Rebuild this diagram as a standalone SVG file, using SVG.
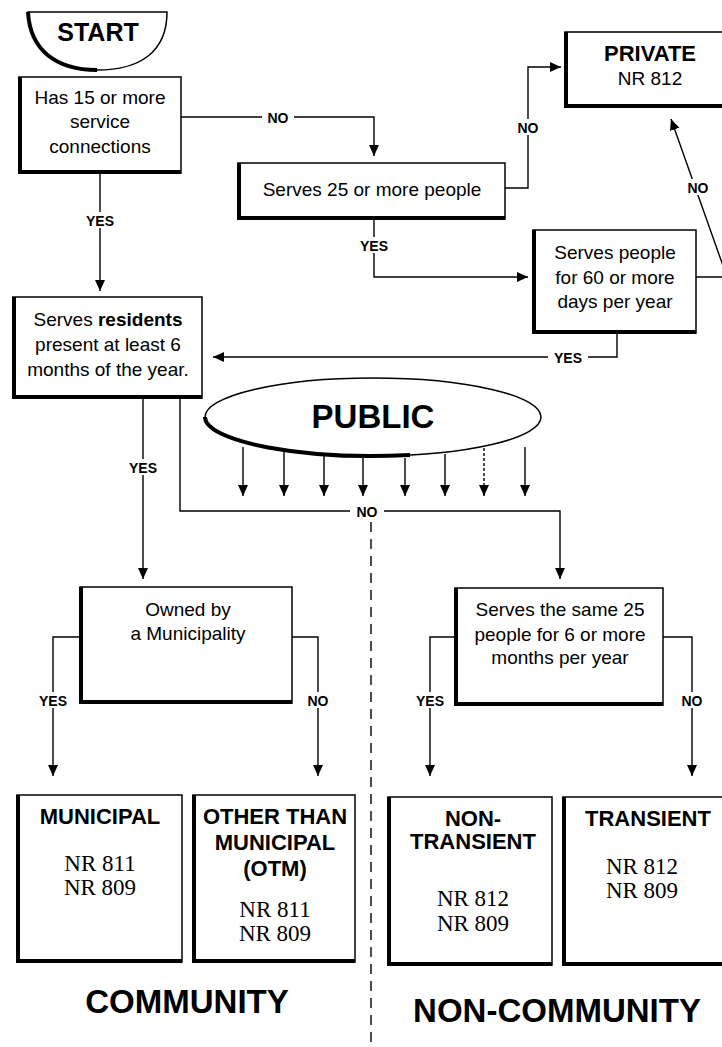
<svg xmlns="http://www.w3.org/2000/svg" width="722" height="1047" viewBox="0 0 722 1047">
<defs>
<marker id="arr" markerUnits="userSpaceOnUse" markerWidth="12" markerHeight="14" refX="11" refY="5" orient="auto">
<path d="M0,0 L11,5 L0,10 Z" fill="#000"/>
</marker>
<style>
.box{fill:#fff;stroke:#000;stroke-width:1.5}
.sh{fill:none;stroke:#000;stroke-width:4}
.ln{fill:none;stroke:#000;stroke-width:1.4}
.t{font-family:"Liberation Sans",Arial,sans-serif;font-size:19px;text-anchor:middle;fill:#000}
.b{font-family:"Liberation Sans",Arial,sans-serif;font-weight:bold;text-anchor:middle;fill:#000}
.s{font-family:"Liberation Serif","Times New Roman",serif;font-size:23px;text-anchor:middle;fill:#000}
.lab{font-family:"Liberation Sans",Arial,sans-serif;font-weight:bold;font-size:14px;text-anchor:middle;fill:#000}
.bg{fill:#fff}
</style>
</defs>
<rect width="722" height="1047" fill="#fff"/>

<g id="connectors">
<path class="ln" d="M181,117 H374 V156" marker-end="url(#arr)"/>
<path class="ln" d="M505,188 H528 V67 H561" marker-end="url(#arr)"/>
<path class="ln" d="M374,220 V277 H528" marker-end="url(#arr)"/>
<path class="ln" d="M696,277 H727 L671,119" marker-end="url(#arr)"/>
<path class="ln" d="M617,333 V357 H213" marker-end="url(#arr)"/>
<path class="ln" d="M100,173 V291" marker-end="url(#arr)"/>
<path class="ln" d="M143,398 V579" marker-end="url(#arr)"/>
<path class="ln" d="M180,398 V511 H560 V579" marker-end="url(#arr)"/>
<path class="ln" d="M80,637 H53 V776" marker-end="url(#arr)"/>
<path class="ln" d="M292,637 H318 V776" marker-end="url(#arr)"/>
<path class="ln" d="M455,637 H430 V776" marker-end="url(#arr)"/>
<path class="ln" d="M663,637 H692 V776" marker-end="url(#arr)"/>
<path class="ln" d="M243,447 V496" marker-end="url(#arr)"/>
<path class="ln" d="M284,452 V496" marker-end="url(#arr)"/>
<path class="ln" d="M324,456 V496" marker-end="url(#arr)"/>
<path class="ln" d="M363,458 V496" marker-end="url(#arr)"/>
<path class="ln" d="M405,458 V496" marker-end="url(#arr)"/>
<path class="ln" d="M445,454 V496" marker-end="url(#arr)"/>
<path class="ln" d="M484,448 V496" marker-end="url(#arr)" stroke-dasharray="3,2"/>
<path class="ln" d="M525,447 V496" marker-end="url(#arr)"/>
<path class="ln" d="M371,522 V1047" stroke-dasharray="10,7"/>
<rect class="bg" x="262" y="109" width="32" height="16"/>
<text class="lab" x="278" y="123">NO</text>
<rect class="bg" x="513" y="119" width="30" height="16"/>
<text class="lab" x="528" y="133">NO</text>
<rect class="bg" x="355" y="237" width="38" height="16"/>
<text class="lab" x="374" y="251">YES</text>
<rect class="bg" x="683" y="179" width="30" height="16"/>
<text class="lab" x="698" y="193">NO</text>
<rect class="bg" x="548" y="349" width="40" height="16"/>
<text class="lab" x="568" y="363">YES</text>
<rect class="bg" x="81" y="212" width="38" height="16"/>
<text class="lab" x="100" y="226">YES</text>
<rect class="bg" x="124" y="459" width="38" height="16"/>
<text class="lab" x="143" y="473">YES</text>
<rect class="bg" x="350" y="503" width="34" height="16"/>
<text class="lab" x="367" y="517">NO</text>
<rect class="bg" x="34" y="692" width="38" height="16"/>
<text class="lab" x="53" y="706">YES</text>
<rect class="bg" x="304" y="692" width="28" height="16"/>
<text class="lab" x="318" y="706">NO</text>
<rect class="bg" x="411" y="692" width="38" height="16"/>
<text class="lab" x="430" y="706">YES</text>
<rect class="bg" x="678" y="692" width="28" height="16"/>
<text class="lab" x="692" y="706">NO</text>
</g>

<g id="start">
<path class="box" d="M28,12 L167,12 C167,52 140,70 97,70 C56,70 30,50 28,12 Z"/>
<path class="sh" d="M28,12 C30,50 56,70 97,70"/>
<text class="b" x="98" y="41" font-size="25">START</text>
</g>

<g id="n-connections">
<rect class="box" x="19" y="77" width="162" height="96"/>
<path class="sh" d="M20,77 V172 H181"/>
<text class="t" x="100" y="104">Has 15 or more</text>
<text class="t" x="100" y="128">service</text>
<text class="t" x="100" y="153">connections</text>
</g>

<g id="n-serves25">
<rect class="box" x="238" y="163" width="267" height="56"/>
<path class="sh" d="M239,163 V218 H505"/>
<text class="t" x="372" y="196" font-size="20">Serves 25 or more people</text>
</g>

<g id="n-private">
<rect class="box" x="565" y="32" width="170" height="75"/>
<path class="sh" d="M566,32 V106 H735"/>
<text class="b" x="650" y="61" font-size="22">PRIVATE</text>
<text class="t" x="650" y="85">NR 812</text>
</g>

<g id="n-days60">
<rect class="box" x="533" y="230" width="163" height="103"/>
<path class="sh" d="M534,230 V332 H696"/>
<text class="t" x="615" y="259">Serves people</text>
<text class="t" x="615" y="284">for 60 or more</text>
<text class="t" x="615" y="308">days per year</text>
</g>

<g id="n-residents">
<rect class="box" x="13" y="297" width="189" height="101"/>
<path class="sh" d="M14,297 V397 H202"/>
<text class="t" x="108" y="326">Serves <tspan font-weight="bold">residents</tspan></text>
<text class="t" x="108" y="351">present at least 6</text>
<text class="t" x="108" y="376">months of the year.</text>
</g>

<g id="n-public">
<ellipse class="box" cx="373" cy="417" rx="168" ry="39"/>
<path class="sh" d="M205,417 A168,39 0 0 0 410,455"/>
<text class="b" x="373" y="428" font-size="33">PUBLIC</text>
</g>

<g id="n-owned">
<rect class="box" x="80" y="587" width="212" height="116"/>
<path class="sh" d="M81,587 V702 H292"/>
<text class="t" x="188" y="616">Owned by</text>
<text class="t" x="188" y="640">a Municipality</text>
</g>

<g id="n-same25">
<rect class="box" x="455" y="588" width="208" height="117"/>
<path class="sh" d="M456,588 V704 H663"/>
<text class="t" x="560" y="616">Serves the same 25</text>
<text class="t" x="560" y="641">people for 6 or more</text>
<text class="t" x="560" y="664">months per year</text>
</g>

<g id="n-municipal">
<rect class="box" x="17" y="795" width="165" height="167"/>
<path class="sh" d="M18,795 V961 H182"/>
<text class="b" x="100" y="824" font-size="22">MUNICIPAL</text>
<text class="s" x="100" y="871">NR 811</text>
<text class="s" x="100" y="895">NR 809</text>
</g>

<g id="n-otm">
<rect class="box" x="193" y="795" width="162" height="167"/>
<path class="sh" d="M194,795 V961 H355"/>
<text class="b" x="275" y="824" font-size="22">OTHER THAN</text>
<text class="b" x="275" y="850" font-size="22">MUNICIPAL</text>
<text class="b" x="275" y="876" font-size="22">(OTM)</text>
<text class="s" x="275" y="917">NR 811</text>
<text class="s" x="275" y="941">NR 809</text>
</g>

<g id="n-nontransient">
<rect class="box" x="388" y="797" width="164" height="168"/>
<path class="sh" d="M389,797 V964 H552"/>
<text class="b" x="473" y="826" font-size="22">NON-</text>
<text class="b" x="473" y="849" font-size="22">TRANSIENT</text>
<text class="s" x="473" y="906">NR 812</text>
<text class="s" x="473" y="931">NR 809</text>
</g>

<g id="n-transient">
<rect class="box" x="563" y="797" width="170" height="168"/>
<path class="sh" d="M564,797 V964 H733"/>
<text class="b" x="648" y="826" font-size="22">TRANSIENT</text>
<text class="s" x="642" y="874">NR 812</text>
<text class="s" x="642" y="898">NR 809</text>
</g>

<g id="community">
<text class="b" x="187" y="1013" font-size="33">COMMUNITY</text>
</g>
<g id="non-community">
<text class="b" x="557" y="1022" font-size="33">NON-COMMUNITY</text>
</g>
</svg>
